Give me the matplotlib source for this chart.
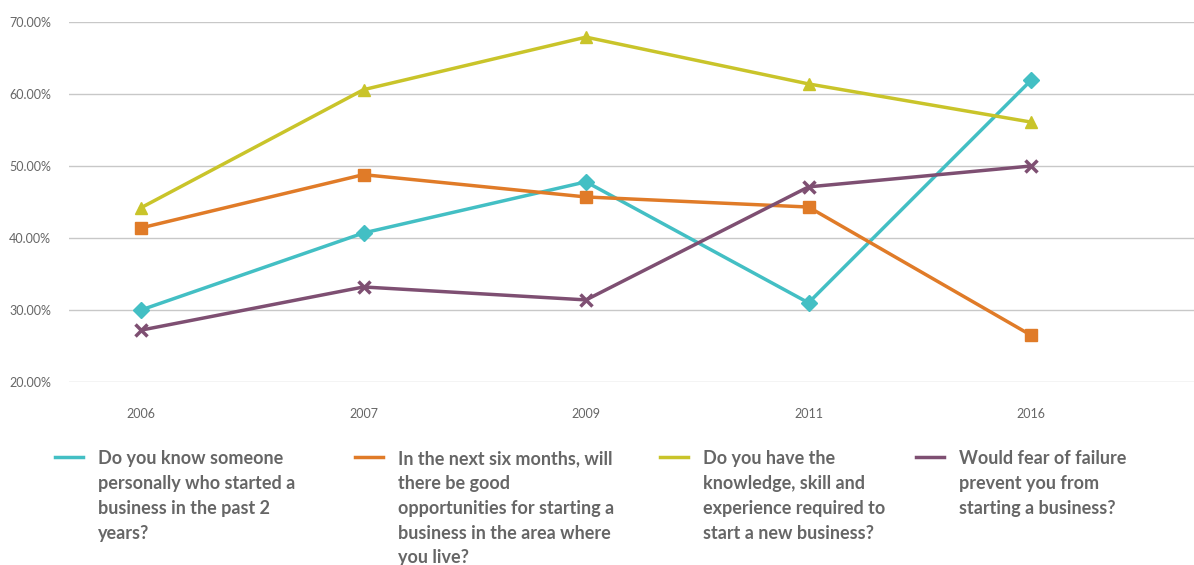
import matplotlib
matplotlib.use("Agg")
import matplotlib.pyplot as plt
from matplotlib.lines import Line2D

years = ["2006", "2007", "2009", "2011", "2016"]
know_someone = [30.0, 40.7, 47.8, 31.0, 61.9]
opportunities = [41.4, 48.8, 45.7, 44.3, 26.5]
knowledge = [44.2, 60.6, 67.9, 61.4, 56.1]
fear_failure = [27.2, 33.2, 31.4, 47.1, 50.0]
yticks = [20, 30, 40, 50, 60, 70]
labels = [
    "Do you know someone\npersonally who started a\nbusiness in the past 2\nyears?",
    "In the next six months, will\nthere be good\nopportunities for starting a\nbusiness in the area where\nyou live?",
    "Do you have the\nknowledge, skill and\nexperience required to\nstart a new business?",
    "Would fear of failure\nprevent you from\nstarting a business?",
]
colors = ["#43bfc4", "#e07b28", "#c9c42a", "#7e4f72"]
markers = ["D", "s", "^", "x"]

W, H = 1194, 565
fig = plt.figure(figsize=(W / 100, H / 100), dpi=100)
plt.rcParams['font.family'] = ['Lato', 'DejaVu Sans']
ax = fig.add_axes([69 / W, 1 - 382 / H, (W - 69) / W, (382 - 22) / H])

x = list(range(len(years)))
series = [know_someone, opportunities, knowledge, fear_failure]
for vals, c, m in zip(series, colors, markers):
    mew = 1 if m != "x" else 2.5
    ax.plot(x, vals, color=c, lw=2.5, marker=m, ms=8, mew=mew, clip_on=False, zorder=3)

ax.set_ylim(20, 70)
ax.set_xlim(-(141 - 69) / 222.5, (1194 - 141) / 222.5)
ax.set_yticks(yticks)
ax.set_yticklabels([f"{v:.2f}%" for v in yticks])
ax.set_xticks(x)
ax.set_xticklabels(years)
ax.grid(axis="y", color="#c8c8c8", lw=1)
ax.set_axisbelow(True)
for s in ax.spines.values():
    s.set_visible(False)
ax.tick_params(axis="both", length=0, labelsize=9, labelcolor="#666666")
ax.tick_params(axis="y", pad=13)
ax.tick_params(axis="x", pad=19)

# Legend
cols_x = [55, 355, 660, 916]
for lx, c, lab in zip(cols_x, colors, labels):
    fig.add_artist(Line2D([lx / W, (lx + 28) / W], [1 - 457 / H, 1 - 457 / H],
                          color=c, lw=2.5, transform=fig.transFigure))
    fig.text((lx + 43) / W, 1 - 450 / H, lab, ha="left", va="top", fontsize=13,
             fontweight="bold", color="#666666", linespacing=1.56)

fig.savefig("out.png", dpi=100)
